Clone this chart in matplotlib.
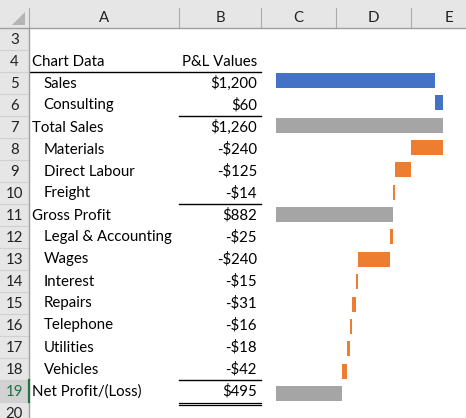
import matplotlib
matplotlib.use("Agg")
import matplotlib.pyplot as plt
from matplotlib.patches import Rectangle, Polygon

plt.rcParams['font.family'] = ['Lato', 'DejaVu Sans']

# ---- data ----
labels = ["Sales", "Consulting", "Total Sales", "Materials", "Direct Labour", "Freight",
          "Gross Profit", "Legal & Accounting", "Wages", "Interest", "Repairs",
          "Telephone", "Utilities", "Vehicles", "Net Profit/(Loss)"]
values = [1200, 60, 1260, -240, -125, -14, 882, -25, -240, -15, -31, -16, -18, -42, 495]
kinds = ["inc", "inc", "total", "dec", "dec", "dec", "total", "dec", "dec", "dec", "dec",
         "dec", "dec", "dec", "total"]
col_letters = ["A", "B", "C", "D", "E"]
row_numbers = list(range(3, 21))
header_a = "Chart Data"
header_b = "P&L Values"
kind_colors = {"inc": "#4472C4", "dec": "#ED7D31", "total": "#A5A5A5"}

W, H = 466, 418
fig = plt.figure(figsize=(W / 100, H / 100), dpi=100)
ax = fig.add_axes([0, 0, 1, 1])
ax.set_xlim(0, W)
ax.set_ylim(H, 0)
ax.axis("off")

FS = 10.8
HDR_H = 28
ROW_H = 22
ROWHDR_W = 29
col_edges = [29, 179, 261, 336, 411, 486]

def row_top(r):
    return HDR_H + (r - 3) * ROW_H

# header row background
ax.add_patch(Rectangle((0, 0), W, HDR_H, color="#e6e6e6", lw=0, zorder=1))
# row header background
ax.add_patch(Rectangle((0, HDR_H), ROWHDR_W, H - HDR_H, color="#e6e6e6", lw=0, zorder=1))
# selected row 19 header
ax.add_patch(Rectangle((0, row_top(19)), ROWHDR_W, ROW_H, color="#d2d2d2", lw=0, zorder=1.5))
# corner triangle
ax.add_patch(Polygon([(12, 25), (25, 12), (25, 25)], closed=True, color="#b4b4b4", lw=0, zorder=2))

# column header separators
for x in col_edges[:-1]:
    ax.plot([x, x], [8, HDR_H], color="#ababab", lw=0.8, zorder=2)
ax.plot([0, W], [HDR_H, HDR_H], color="#9e9e9e", lw=1, zorder=3)
ax.plot([ROWHDR_W, ROWHDR_W], [HDR_H, H], color="#9e9e9e", lw=1, zorder=3)
ax.plot([ROWHDR_W, ROWHDR_W], [row_top(19), row_top(19) + ROW_H], color="#217346", lw=1.6, zorder=4)

# column letters
for i, c in enumerate(col_letters):
    xc = (col_edges[i] + col_edges[i + 1]) / 2
    ax.text(xc, 18, c, ha="center", va="center", fontsize=FS, color="#222222", zorder=5)

# row numbers
for r in row_numbers:
    y0 = row_top(r)
    if r > 3:
        ax.plot([0, ROWHDR_W], [y0, y0], color="#d0d0d0", lw=0.8, zorder=2)
    col = "#217346" if r == 19 else "#222222"
    ax.text(ROWHDR_W / 2, y0 + ROW_H / 2 + 0.5, str(r), ha="center", va="center",
            fontsize=FS, color=col, zorder=5)

# header row 4
ax.text(31.5, row_top(4) + ROW_H / 2 + 0.5, header_a, ha="left", va="center", fontsize=FS, color="black")
ax.text(257, row_top(4) + ROW_H / 2 + 0.5, header_b, ha="right", va="center", fontsize=FS, color="black")
ax.plot([30, 261], [row_top(5), row_top(5)], color="black", lw=1)

def fmt(v):
    s = "${:,.0f}".format(abs(v))
    return ("-" + s) if v < 0 else s

for i, (lab, v, k) in enumerate(zip(labels, values, kinds)):
    r = 5 + i
    yc = row_top(r) + ROW_H / 2 + 0.5
    xl = 31.5 if k == "total" else 43.5
    ax.text(xl, yc, lab, ha="left", va="center", fontsize=FS, color="black")
    ax.text(257, yc, fmt(v), ha="right", va="center", fontsize=FS, color="black")

# borders above totals in column B
for i, k in enumerate(kinds):
    if k == "total" and i > 0:
        y = row_top(5 + i)
        ax.plot([179, 261], [y, y], color="black", lw=1)
# double underline on last total
yb = row_top(5 + len(labels))
ax.plot([179, 261], [yb + 1, yb + 1], color="black", lw=0.9)
ax.plot([179, 261], [yb + 3.3, yb + 3.3], color="black", lw=0.9)

# ---- waterfall chart ----
lefts, widths, colors = [], [], []
running = 0
for v, k in zip(values, kinds):
    if k == "total":
        lefts.append(0); widths.append(v); running = v
    elif k == "inc":
        lefts.append(running); widths.append(v); running += v
    else:
        lefts.append(running + v); widths.append(-v); running += v
    colors.append(kind_colors[k])

x0, x1 = 276, 443
n = len(values)
step = 22.35
top = 80.5 - step / 2
bottom = top + n * step
bax = fig.add_axes([x0 / W, 1 - bottom / H, (x1 - x0) / W, (bottom - top) / H])
bax.barh(range(n), widths, left=lefts, height=15 / step, color=colors, linewidth=0)
bax.set_xlim(0, max(values))
bax.set_ylim(n - 0.5, -0.5)
bax.axis("off")
bax.patch.set_alpha(0)

fig.savefig("out.png", dpi=100)
